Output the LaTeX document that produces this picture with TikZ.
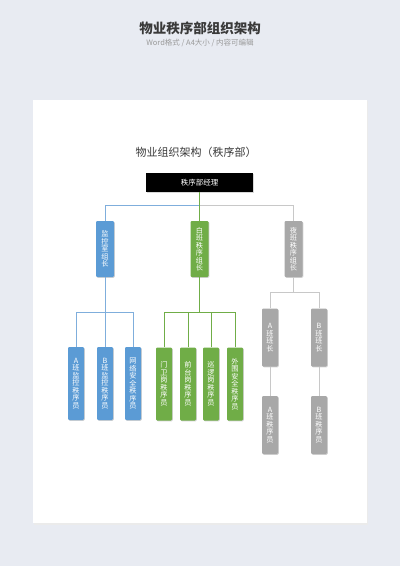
\documentclass[tikz,border=0pt]{standalone}
\usepackage{fontspec}
\setmainfont{Noto Sans CJK SC}
\usetikzlibrary{shadows}
\definecolor{bgc}{HTML}{E8EBF2}
\definecolor{blu}{HTML}{5B9BD5}
\definecolor{grn}{HTML}{70AD47}
\definecolor{gry}{HTML}{A8A8A8}
\definecolor{blul}{HTML}{7FAEDC}
\definecolor{gryl}{HTML}{C8C8C8}
\definecolor{ttl}{HTML}{3A3A3A}
\definecolor{sub}{HTML}{9A9A9A}
\tikzset{
  box/.style={inner sep=0pt, align=center, text=white, rounded corners=1.2pt,
    font=\fontsize{7.2}{7.5}\selectfont,
    drop shadow={shadow xshift=0.8pt, shadow yshift=-0.8pt, opacity=0.35}},
  lvtwo/.style={box, minimum width=18pt, minimum height=56pt},
  lvthree/.style={box, minimum width=16pt, minimum height=73pt},
  lvgray/.style={box, fill=gry, minimum width=16pt, minimum height=58pt},
  bline/.style={blul, line width=0.7pt},
  gline/.style={grn, line width=0.7pt},
  yline/.style={gryl, line width=0.7pt},
}
\begin{document}
\begin{tikzpicture}[x=1pt,y=-1pt]
\useasboundingbox (0,0) rectangle (400,566);
\fill[bgc] (0,0) rectangle (400,566);
\fill[black!8] (33.5,101) rectangle (367.5,524.5);
\fill[white] (33,100) rectangle (367,523);
\node[font=\fontsize{13.5}{14}\selectfont\bfseries, text=ttl] (t1) at (200,28) {物业秩序部组织架构};
\node[font=\fontsize{7.5}{8}\selectfont, text=sub] (t2) at (200,43) {Word格式 / A4大小 / 内容可编辑};
\node[font=\fontsize{11}{12}\selectfont, text=ttl] (t3) at (196,152) {物业组织架构（秩序部）};
\node[fill=black, text=white, minimum width=107pt, minimum height=19pt, inner sep=0pt,
  font=\fontsize{7.5}{8}\selectfont,
  drop shadow={shadow xshift=0.8pt, shadow yshift=-0.8pt, opacity=0.3}] (mgr) at (199.5,182.5) {秩序部经理};
% level 2
\node[lvtwo, fill=blu] (b2) at (105,249) {监\\控\\室\\组\\长};
\node[lvtwo, fill=grn] (g2) at (199.5,249) {白\\班\\秩\\序\\组\\长};
\node[lvtwo, fill=gry] (y2) at (293.5,249) {夜\\班\\秩\\序\\组\\长};
\coordinate (j1) at (199.5,205);
% level 3 blue
\node[lvthree, fill=blu] (b3a) at (76,383.5) {A\\班\\监\\控\\秩\\序\\员};
\node[lvthree, fill=blu] (b3b) at (105,383.5) {B\\班\\监\\控\\秩\\序\\员};
\node[lvthree, fill=blu] (b3c) at (133,383.5) {网\\络\\安\\全\\秩\\序\\员};
\coordinate (bj) at (105,312);
% level 3 green
\node[lvthree, fill=grn] (g3a) at (164,384) {门\\卫\\岗\\秩\\序\\员};
\node[lvthree, fill=grn] (g3b) at (188,384) {前\\台\\岗\\秩\\序\\员};
\node[lvthree, fill=grn] (g3c) at (211,384) {巡\\逻\\岗\\秩\\序\\员};
\node[lvthree, fill=grn] (g3d) at (235,384) {外\\围\\安\\全\\秩\\序\\员};
\coordinate (gj) at (199.5,312);
% gray
\node[lvgray] (y3a) at (270,337.5) {A\\班\\班\\长};
\node[lvgray] (y3b) at (319,337.5) {B\\班\\班\\长};
\node[lvgray] (y4a) at (270,425) {A\\班\\秩\\序\\员};
\node[lvgray] (y4b) at (319,425) {B\\班\\秩\\序\\员};
\coordinate (yj) at (293.5,292);
% connectors
\draw[bline] (b2.north) |- (j1);
\draw[yline] (y2.north) |- (j1);
\draw[gline] (mgr.south) -- (g2.north);
\draw[bline] (b2.south) -- (bj);
\draw[bline] (b3a.north) |- (bj);
\draw[bline] (b3c.north) |- (bj);
\draw[bline] (b3b.north) -- (bj);
\draw[gline] (g2.south) -- (gj);
\draw[gline] (g3a.north) |- (gj);
\draw[gline] (g3b.north) |- (gj);
\draw[gline] (g3c.north) |- (gj);
\draw[gline] (g3d.north) |- (gj);
\draw[yline] (y2.south) -- (yj);
\draw[yline] (y3a.north) |- (yj);
\draw[yline] (y3b.north) |- (yj);
\draw[yline] (y3a.south) -- (y4a.north);
\draw[yline] (y3b.south) -- (y4b.north);
\end{tikzpicture}
\end{document}
